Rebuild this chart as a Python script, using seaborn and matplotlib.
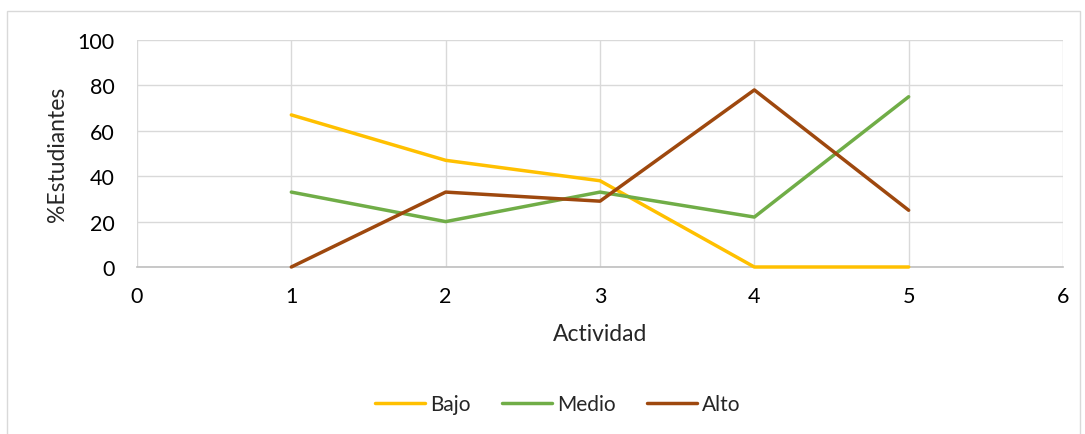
import pandas as pd
import matplotlib.pyplot as plt
import seaborn as sns
from matplotlib.patches import Rectangle

# Datos
actividad = [1, 2, 3, 4, 5]
bajo = [67, 47, 38, 0, 0]
medio = [33, 20, 33, 22, 75]
alto = [0, 33, 29, 78, 25]
niveles = ["Bajo", "Medio", "Alto"]
colores = ["#FFC000", "#70AD47", "#9E480E"]

df = pd.DataFrame({
    "Actividad": actividad * 3,
    "Valor": bajo + medio + alto,
    "Nivel": [n for n in niveles for _ in actividad],
})

sns.set_style("white")
plt.rcParams["font.family"] = ["Lato", "DejaVu Sans"]

fig = plt.figure(figsize=(10.85, 4.35), dpi=100)
ax = fig.add_axes([137 / 1085, 1 - 268 / 435, (1063 - 137) / 1085, (268 - 41) / 435])

sns.lineplot(
    data=df, x="Actividad", y="Valor", hue="Nivel",
    palette=dict(zip(niveles, colores)), linewidth=2.5, ax=ax, legend=True
)
for linea in ax.lines:
    linea.set_zorder(3)
    linea.set_clip_on(False)

ax.set_xlim(0, 6)
ax.set_ylim(0, 100)
ax.set_xticks(range(0, 7))
ax.set_yticks(range(0, 101, 20))
ax.grid(True, color="#D9D9D9", linewidth=1)
ax.set_axisbelow(True)
for lado in ["top", "right", "left"]:
    ax.spines[lado].set_visible(False)
ax.spines["bottom"].set_color("#BFBFBF")
ax.spines["bottom"].set_linewidth(1.2)
ax.spines["bottom"].set_zorder(1)
ax.tick_params(axis="both", length=0, labelsize=15.5, colors="#000000")
ax.tick_params(axis="y", pad=16)
ax.tick_params(axis="x", pad=14)
ax.set_xlabel("Actividad", fontsize=16.5, labelpad=12)
ax.set_ylabel("%Estudiantes", fontsize=16.5, labelpad=7)

ax.legend(
    loc="center", bbox_to_anchor=(558 / 1085, 1 - 405 / 435),
    bbox_transform=fig.transFigure, ncol=3, frameon=False,
    fontsize=15, handlelength=2.4, columnspacing=1.5, handletextpad=0.25
)

# Borde exterior del gráfico
fig.patches.append(Rectangle((7 / 1085, -0.01), 1073 / 1085, 1 - 12 / 435 + 0.01,
                             transform=fig.transFigure, fill=False,
                             edgecolor="#D9D9D9", linewidth=1))

fig.savefig("out.png", dpi=100)
